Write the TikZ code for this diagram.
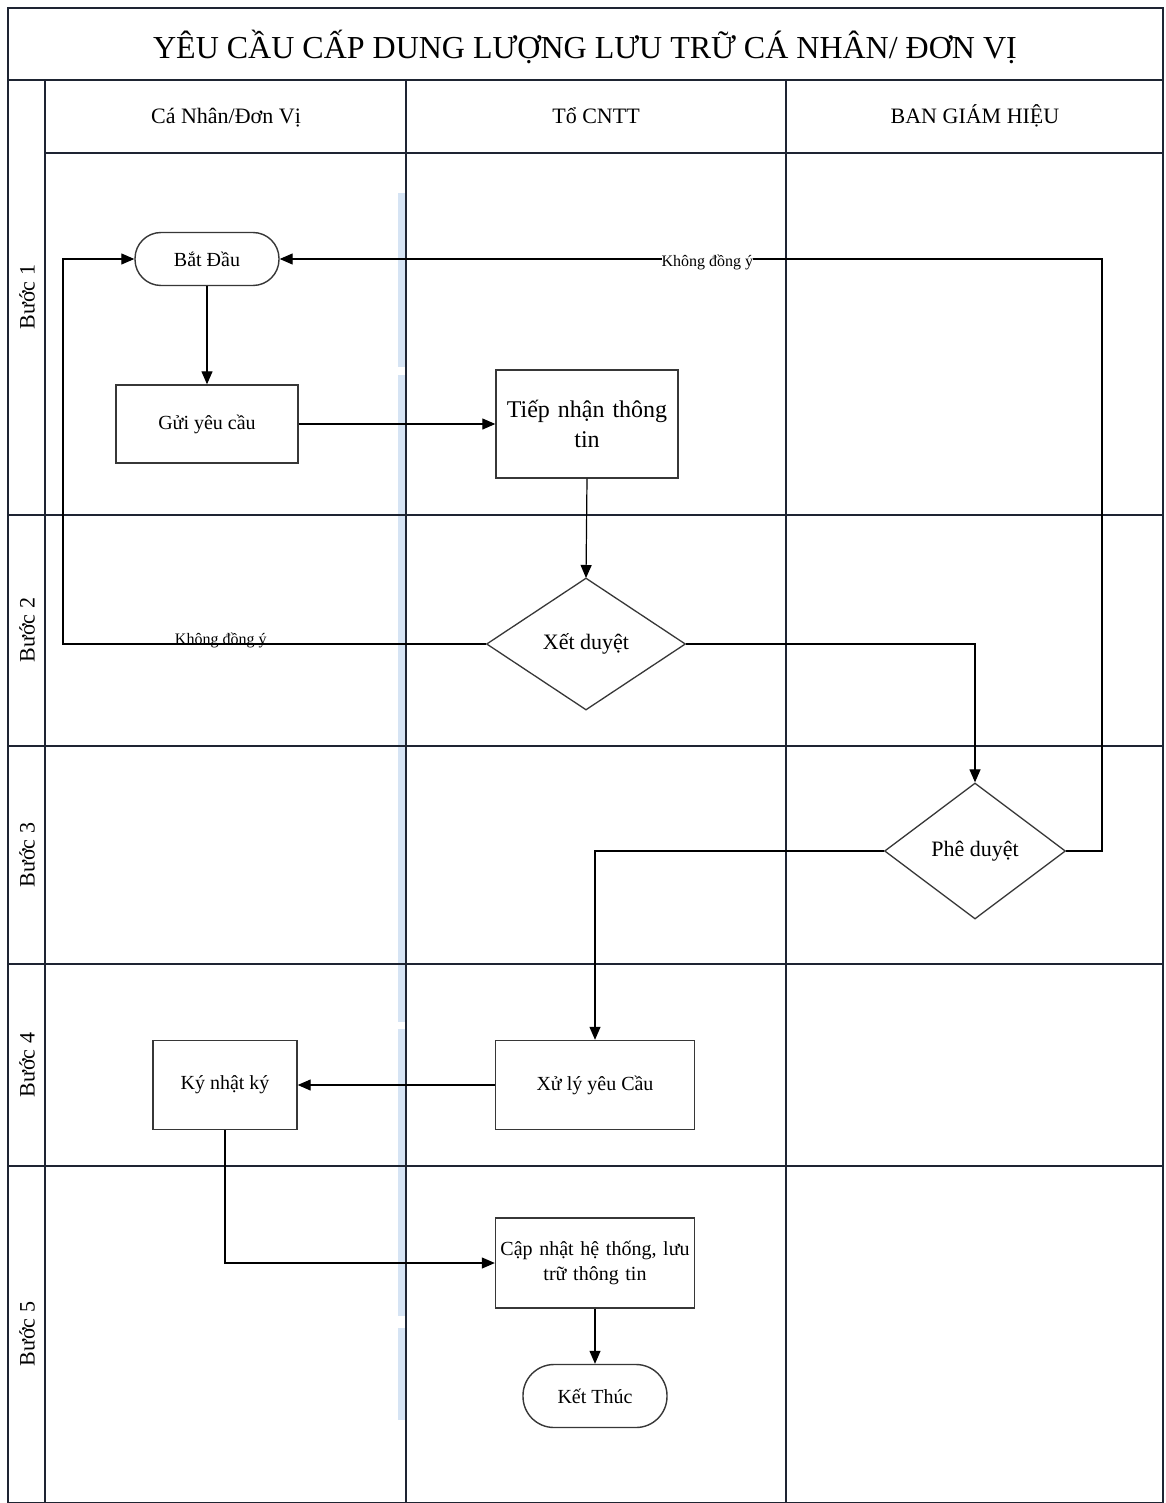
\documentclass[tikz,border=0pt]{standalone}
\usepackage{fontspec}
\setmainfont{Liberation Serif}
\usetikzlibrary{arrows.meta,shapes.geometric}
\definecolor{lanecol}{RGB}{30,36,50}
\definecolor{nodecol}{RGB}{55,55,55}
\definecolor{glow}{RGB}{214,228,244}
\begin{document}
\begin{tikzpicture}[x=1pt,y=-1pt,
  lane/.style={draw=lanecol,line width=2pt},
  box/.style={draw=nodecol,line width=1.4pt,fill=white,inner sep=2pt,align=center,font=\fontsize{20}{28}\selectfont},
  term/.style={box,rounded corners=26pt},
  dec/.style={draw=nodecol,line width=1.3pt,fill=white,diamond,inner sep=0pt,align=center,font=\fontsize{22}{26}\selectfont},
  conn/.style={draw=black,line width=1.2pt,-{Triangle[length=13pt,width=11pt]}},
  lbl/.style={font=\fontsize{16}{18}\selectfont,inner sep=0pt},
  hdr/.style={font=\fontsize{22}{26}\selectfont,anchor=base},
  steplbl/.style={font=\fontsize{22}{26}\selectfont,rotate=90}
]
\useasboundingbox (0,0) rectangle (1165,1503);
\fill[white] (0,0) rectangle (1165,1503);
% glow along the middle lane line
\foreach \a/\b in {193/367,375/1022,1029/1316,1328/1420}
  \draw[glow,line width=9pt] (402,\a) -- (402,\b);
% frame and lanes
\draw[lane] (8,8) rectangle (1163,1503);
\draw[lane] (8,80) -- (1163,80);
\draw[lane] (45,80) -- (45,1503);
\draw[lane] (45,153) -- (1163,153);
\draw[lane] (406,80) -- (406,1503);
\draw[lane] (786,80) -- (786,1503);
\foreach \yy in {515,746,964,1166}
  \draw[lane] (8,\yy) -- (1163,\yy);
% title and headers
\node[font=\fontsize{32}{36}\selectfont,anchor=base] (title) at (585,59) {YÊU CẦU CẤP DUNG LƯỢNG LƯU TRỮ CÁ NHÂN/ ĐƠN VỊ};
\node[hdr] (h1) at (226,124) {Cá Nhân/Đơn Vị};
\node[hdr] (h2) at (596,124) {Tổ CNTT};
\node[hdr] (h3) at (975,124) {BAN GIÁM HIỆU};
\node[steplbl] (s1) at (27,297) {Bước 1};
\node[steplbl] (s2) at (27,630) {Bước 2};
\node[steplbl] (s3) at (27,855) {Bước 3};
\node[steplbl] (s4) at (27,1065) {Bước 4};
\node[steplbl] (s5) at (27,1334) {Bước 5};
% nodes
\node[term,minimum width=144pt,minimum height=53pt] (start) at (207,259) {Bắt Đầu};
\node[box,minimum width=182pt,minimum height=78pt] (send) at (207,424) {Gửi yêu cầu};
\node[box,minimum width=182pt,minimum height=108pt,text width=176pt,font=\fontsize{24}{30}\selectfont] (recv) at (587,424) {Tiếp nhận thông\\tin};
\node[dec,minimum width=199pt,minimum height=132pt] (review) at (586,644) {Xết duyệt};
\node[dec,minimum width=181pt,minimum height=136pt] (approve) at (975,851) {Phê duyệt};
\node[box,minimum width=199pt,minimum height=89pt] (process) at (595,1085) {Xử lý yêu Cầu};
\node[box,minimum width=144pt,minimum height=89pt] (log) at (225,1085) {Ký nhật ký};
\node[box,minimum width=199pt,minimum height=90pt,text width=195pt,font=\fontsize{20}{25}\selectfont] (update) at (595,1263) {Cập nhật hệ thống, lưu\\trữ thông tin};
\node[term,minimum width=144pt,minimum height=63pt,rounded corners=31pt] (finish) at (595,1396) {Kết Thúc};
% connectors
\draw[conn] (start) -- (send);
\draw[conn] (send) -- (recv);
\draw[conn] (recv.south) -- (586,578);
\draw[conn] (review.west) -- node[lbl,anchor=base,pos=0.627]{Không đồng ý} (63,644) -- (63,259) -- (start.west);
\draw[conn] (review.east) -| (approve.north);
\draw[conn] (approve.east) -- (1102,851) -- (1102,259) -- node[lbl,fill=white,pos=0.48,yshift=-3pt]{Không đồng ý} (start.east);
\draw[conn] (approve.west) -| (process.north);
\draw[conn] (process.west) -- (log.east);
\draw[conn] (log.south) |- (update.west);
\draw[conn] (update.south) -- (finish.north);
\end{tikzpicture}
\end{document}
